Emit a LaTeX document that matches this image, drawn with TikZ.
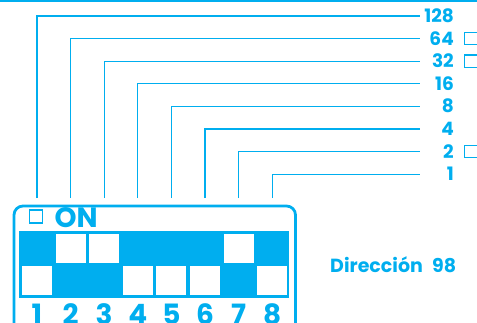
\documentclass[tikz,border=0pt]{standalone}
\usepackage{fontspec}
\setmainfont{Poppins}
\definecolor{dip}{RGB}{0,174,239}
\begin{document}
\begin{tikzpicture}[x=1pt,y=-1pt,
  wire/.style={draw=dip,line width=1.3pt},
  val/.style={text=dip,font=\fontsize{18.5}{18.5}\selectfont\bfseries,anchor=base east,inner sep=0pt},
  chk/.style={draw=dip,line width=1.2pt,minimum size=12.5pt,inner sep=0pt},
  num/.style={text=dip,font=\fontsize{28}{28}\selectfont\bfseries,anchor=base,inner sep=0pt},
  cell/.style={fill=white,minimum width=30pt,minimum height=29pt,inner sep=0pt},
  lbl/.style={text=dip,font=\fontsize{19}{19}\selectfont\bfseries,anchor=base west,inner sep=0pt}]
\useasboundingbox (0,0) rectangle (477,322);
% top rule
\draw[dip,line width=1.6pt] (0,0.8) -- (477,0.8);
% switch housing
\draw[dip,line width=2.8pt,rounded corners=9pt] (14,206) rectangle (295.5,345);
\node[chk,minimum size=13pt,line width=1.3pt] (onbox) at (36,216.5) {};
\node[text=dip,font=\fontsize{28}{28}\selectfont\bfseries,anchor=base west,inner sep=0pt] (on) at (54.5,227) {ON};
% band
\fill[dip] (19,231) rectangle (289,298);
% wires, values, cells and numbers
\foreach \i/\v/\up in {1/128/0,2/64/1,3/32/1,4/16/0,5/8/0,6/4/0,7/2/1,8/1/0} {
  \pgfmathsetmacro\xx{37+33.6*(\i-1)}
  \pgfmathsetmacro\yy{16+22.6*(\i-1)}
  \node[val] (v\i) at (454,\yy+6.5) {\v};
  \coordinate (t\i) at (\xx,198);
  \coordinate (e\i) at (419.5,\yy);
  \draw[wire] (t\i) |- (e\i);
  \ifnum\up=1
    \node[cell] (c\i) at (\xx,248.5) {};
  \else
    \node[cell] (c\i) at (\xx,280.5) {};
  \fi
  \node[num] (n\i) at (\xx,324) {\i};
}
% check boxes
\node[chk] (b2) at (471,38.6) {};
\node[chk] (b3) at (471,61.2) {};
\node[chk] (b7) at (471,151.6) {};
% address
\node[lbl] (dir) at (330,272) {Dirección};
\node[lbl] (dv) at (432,272) {98};
\end{tikzpicture}
\end{document}
